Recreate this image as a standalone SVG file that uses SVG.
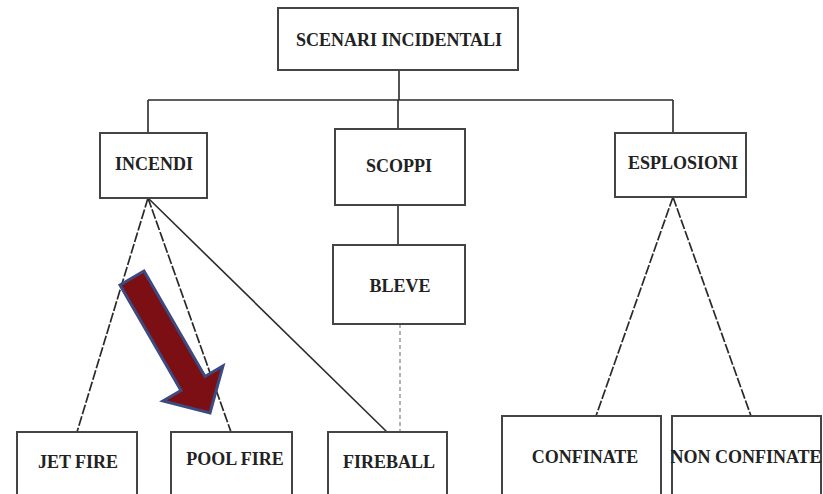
<svg xmlns="http://www.w3.org/2000/svg" width="823" height="494" viewBox="0 0 823 494">
<style>
.box{fill:#fff;stroke:#444;stroke-width:2}
.lbl{font-family:"Liberation Serif",serif;font-weight:bold;font-size:18px;fill:#222;text-anchor:middle}
.ln{stroke:#2a2a2a;stroke-width:1.6;fill:none}
.dl{stroke:#2a2a2a;stroke-width:1.7;fill:none;stroke-dasharray:10 2}
.gd{stroke:#999;stroke-width:1.5;fill:none;stroke-dasharray:4 3}
</style>
<rect width="823" height="494" fill="#fff"/>
<g id="connectors">
<path class="ln" d="M399 70V100M148 100H673M148 100V133M398 100V129M673 100V133M398 205V245"/>
<path class="dl" d="M148 198L77 432M148 198L231 432M673 197L596 416M673 197L751 416"/>
<path class="ln" d="M148 198L387 432"/>
<path class="gd" d="M400 324V432"/>
</g>
<g id="scenari"><rect class="box" x="278" y="8" width="240" height="62"/><text class="lbl" x="399" y="46" font-size="20">SCENARI INCIDENTALI</text></g>
<g id="incendi"><rect class="box" x="100" y="133" width="107" height="65"/><text class="lbl" x="154" y="170">INCENDI</text></g>
<g id="scoppi"><rect class="box" x="335" y="129" width="130" height="76"/><text class="lbl" x="399" y="172">SCOPPI</text></g>
<g id="esplosioni"><rect class="box" x="615" y="133" width="131" height="64"/><text class="lbl" x="683" y="169">ESPLOSIONI</text></g>
<g id="bleve"><rect class="box" x="333" y="245" width="132" height="79"/><text class="lbl" x="400" y="292">BLEVE</text></g>
<g id="jetfire"><rect class="box" x="17" y="432" width="120" height="70"/><text class="lbl" x="78" y="468">JET FIRE</text></g>
<g id="poolfire"><rect class="box" x="171" y="432" width="121" height="70"/><text class="lbl" x="235" y="465">POOL FIRE</text></g>
<g id="fireball"><rect class="box" x="328" y="432" width="119" height="70"/><text class="lbl" x="389" y="468">FIREBALL</text></g>
<g id="confinate"><rect class="box" x="502" y="416" width="159" height="90"/><text class="lbl" x="585" y="463">CONFINATE</text></g>
<g id="nonconfinate"><rect class="box" x="672" y="416" width="149" height="90"/><text class="lbl" x="746" y="463" font-size="15.5">NON CONFINATE</text></g>
<g id="arrow"><polygon points="144,271 205,376.5 223,366 210,413 163,401 181,390.5 120,285" fill="#7b0f14" stroke="#3b4a80" stroke-width="3" stroke-linejoin="miter"/></g>
</svg>
